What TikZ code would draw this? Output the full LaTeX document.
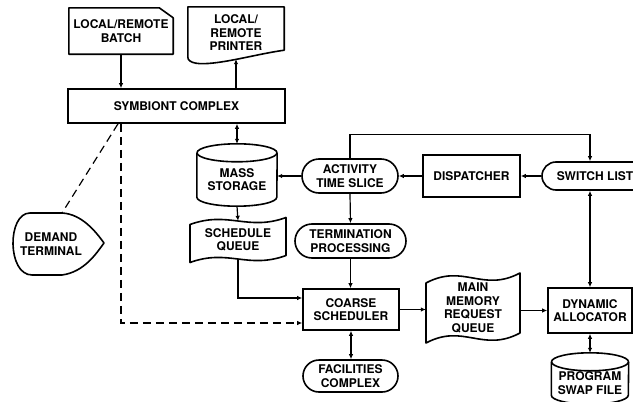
\documentclass[tikz,border=0pt]{standalone}
\usepackage{fontspec}
\setmainfont{TeX Gyre Heros}
\usetikzlibrary{shapes.misc,arrows.meta,calc}
\begin{document}
\begin{tikzpicture}[x=1pt,y=-1pt,
  lbl/.style={font=\fontsize{12}{13.5}\selectfont\bfseries, align=center, inner sep=0pt},
  boxr/.style={lbl, draw, line width=1.6pt, rectangle},
  pill/.style={lbl, draw, line width=1.6pt, rounded rectangle},
  shp/.style={line width=1.6pt, line join=round},
  tip/.tip={Latex[length=5pt,width=4.5pt]},
  arr/.style={line width=1.2pt, -tip},
  arrtwo/.style={line width=1.2pt, tip-tip},
  dsh/.style={line width=1.2pt, dash pattern=on 8pt off 5pt},
]
\useasboundingbox (0,0) rectangle (633,402);
\fill[white] (0,0) rectangle (633,402);
\clip (0,0) rectangle (633,402);

% ---- batch card (cut corner) ----
\node[lbl, minimum width=104pt, minimum height=46pt] (batch) at (121,31) {LOCAL/REMOTE\\BATCH};
\draw[shp] (batch.north west) -- ($(batch.north east)+(-14,0)$) -- ($(batch.north east)+(0,10)$)
  -- (batch.south east) -- (batch.south west) -- cycle;

% ---- printer (document shape) ----
\node[lbl, minimum width=96pt, minimum height=52pt] (pr) at (236,33) {LOCAL/\\REMOTE\\PRINTER};
\draw[shp] (pr.north west) -- (pr.north east) -- ($(pr.south east)+(0,-9)$)
  .. controls +(-29,4) and +(19,3) .. ($(pr.south west)+(8,4)$)
  .. controls +(-5,-1) and +(0,3) .. ($(pr.south west)+(0,-2)$) -- cycle;

% ---- symbiont complex ----
\node[boxr, minimum width=217pt, minimum height=34pt] (sym) at (176.5,106) {SYMBIONT COMPLEX};

% ---- mass storage (drum) ----
\node[lbl, minimum width=80pt, minimum height=53pt] (ms) at (237,179.5) {MASS\\STORAGE};
\draw[shp] (ms.north west) -- ($(ms.south west)+(0,-9)$)
  arc[start angle=180, end angle=360, x radius=40pt, y radius=9pt] -- (ms.north east);
\draw[shp] (ms.north) ellipse[x radius=40pt, y radius=9pt];

% ---- schedule queue (punched tape) ----
\node[lbl, minimum width=96pt, minimum height=38pt] (sq) at (238,240) {SCHEDULE\\QUEUE};
\draw[shp] (190,224.5) .. controls (228.4,210.5) and (247.6,231.5) .. (286,217.5)
  -- (286,255.5) .. controls (247.6,269.5) and (228.4,248.5) .. (190,262.5) -- cycle;

% ---- demand terminal (display shape) ----
\node[lbl] (dem) at (51,244) {DEMAND\\TERMINAL};
\coordinate (dtop) at (62,213);
\draw[shp] (30,213) -- (dtop) .. controls (82,214) and (96,232) .. (104,243)
  .. controls (96,254) and (84,272) .. (62,275) -- (32,275)
  .. controls (7,275) and (7,213) .. (30,213) -- cycle;

% ---- right-hand blocks ----
\node[pill, minimum width=96pt, minimum height=34pt] (act) at (350,176) {ACTIVITY\\TIME SLICE};
\node[pill, minimum width=111pt, minimum height=34pt] (term) at (350.5,241) {TERMINATION\\PROCESSING};
\node[boxr, minimum width=97pt, minimum height=42pt] (disp) at (471.5,176) {DISPATCHER};
\node[pill, minimum width=106pt, minimum height=28pt] (sw) at (595,176) {SWITCH LIST};
\node[boxr, minimum width=84pt, minimum height=45pt] (dyn) at (590,310.5) {DYNAMIC\\ALLOCATOR};
\node[boxr, minimum width=96pt, minimum height=41pt] (coarse) at (351,309.5) {COARSE\\SCHEDULER};
\node[pill, minimum width=95pt, minimum height=32pt] (fac) at (350.5,376) {FACILITIES\\COMPLEX};

% ---- main memory request queue (punched tape) ----
\node[lbl, minimum width=94pt, minimum height=60pt] (mm) at (473,308) {MAIN\\MEMORY\\REQUEST\\QUEUE};
\draw[shp] (426,283) .. controls (463.6,263) and (482.4,293) .. (520,273)
  -- (520,333) .. controls (482.4,353) and (463.6,323) .. (426,343) -- cycle;

% ---- program swap file (drum) ----
\node[lbl, minimum width=77pt, minimum height=42pt] (swap) at (590,383) {PROGRAM\\SWAP FILE};
\draw[shp] (swap.north west) -- ($(swap.south west)+(0,-9)$)
  arc[start angle=180, end angle=360, x radius=38.5pt, y radius=9pt] -- (swap.north east);
\draw[shp] (swap.north) ellipse[x radius=38.5pt, y radius=9pt];

% ---- connectors ----
\draw[arr] (batch.south) -- (batch.south |- sym.north);
\draw[arr] (sym.north -| pr.south) -- (pr.south);
\draw[arrtwo] (sym.south -| ms.north) -- ([yshift=9pt]ms.north);
\draw[arr] (ms.south) -- (sq.north);
\draw[arr] (act.west) -- (act.west -| ms.east);
\draw[arr] (disp.west) -- (act.east);
\draw[arr] (sw.west) -- (disp.east);
\draw[arr] (act.north) -- ++(0,-24) -| (dyn.north |- sw.north);
\draw[arr] (act.south) -- (term.north);
\draw[arr] (term.south) -- (term.south |- coarse.north);
\draw[arr] (sq.south) |- ([yshift=11.5pt]coarse.west);
\draw[dsh] ([xshift=-3pt]sym.south -| batch.south) -- (dtop);
\draw[dsh,-tip] (sym.south -| batch.south) |- ([yshift=-13.5pt]coarse.west);
\draw[arr] (coarse.east) -- (coarse.east -| mm.west);
\draw[arr] (dyn.west -| mm.east) -- (dyn.west);
\draw[arrtwo] (dyn.north |- sw.south) -- (dyn.north);
\draw[arrtwo] (coarse.south) -- (coarse.south |- fac.north);
\draw[arrtwo] (dyn.south) -- ([yshift=9pt]swap.north);
\end{tikzpicture}
\end{document}
